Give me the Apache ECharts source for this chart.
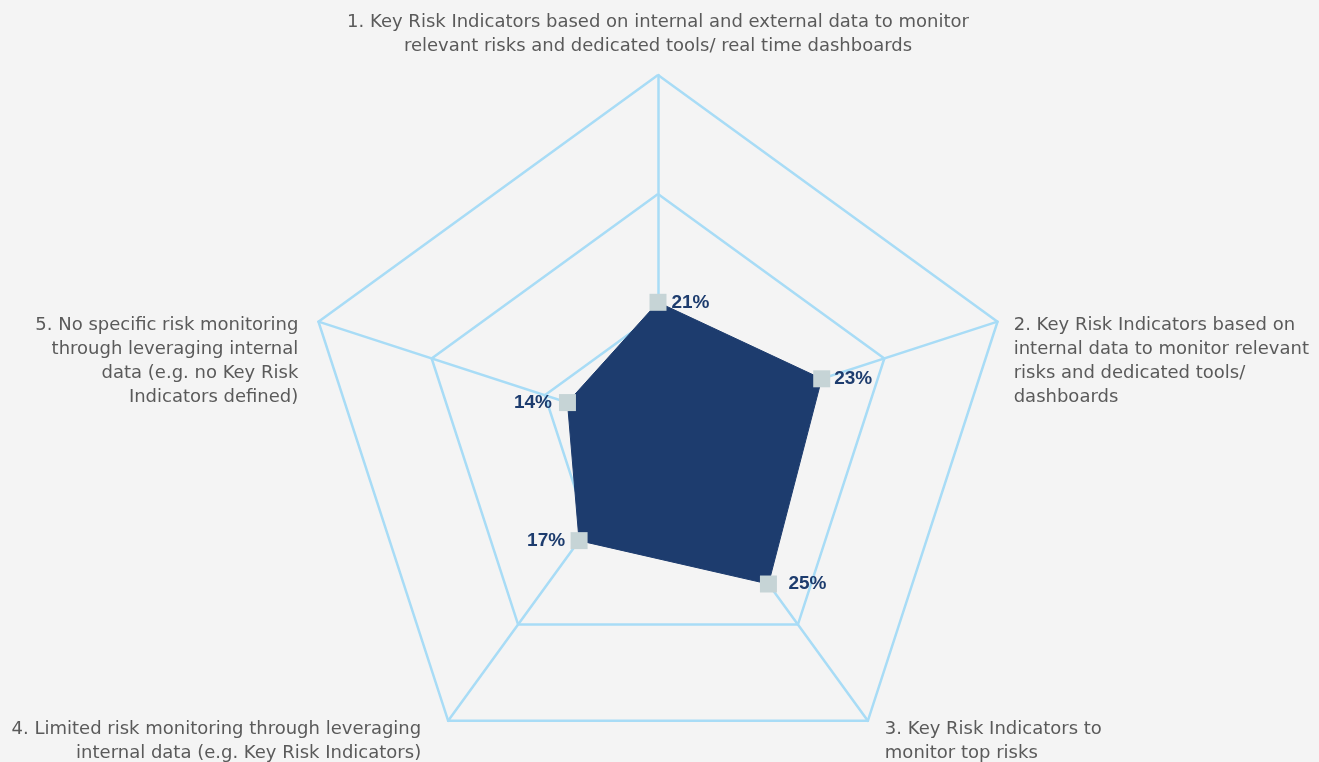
<!DOCTYPE html>
<html><head><meta charset="utf-8">
<script src="https://cdn.jsdelivr.net/npm/echarts@6/dist/echarts.min.js"></script>
<style>html,body{margin:0;padding:0;background:#f4f4f4;} #chart{width:1319px;height:762px;}</style>
</head><body><div id="chart"></div>
<script>
// ---- data ----
const categories = [
  "1. Key Risk Indicators based on internal and external data to monitor\nrelevant risks and dedicated tools/ real time dashboards",
  "2. Key Risk Indicators based on\ninternal data to monitor relevant\nrisks and dedicated tools/\ndashboards",
  "3. Key Risk Indicators to\nmonitor top risks",
  "4. Limited risk monitoring through leveraging\ninternal data (e.g. Key Risk Indicators)",
  "5. No specific risk monitoring\nthrough leveraging internal\ndata (e.g. no Key Risk\nIndicators defined)"
];
const values = [21, 23, 25, 17, 14];
const axisMax = [57.8, 47.7, 47.5, 45.2, 52.5];

// ---- styling ----
const gridColor = '#a8dcf6';
const navy = '#1d3c6e';
const markerColor = '#c6d4d6';
const textColor = '#5a5a5a';
const nameFont = '"DejaVu Sans", sans-serif';
const labelFont = '"Liberation Sans", Arial, sans-serif';

const nameLayout = [
  {align: 'center', spacer: 0, pad: [0, 0, 0, 0]},
  {align: 'left', spacer: 89, pad: [0, 0, 0, 0]},
  {align: 'left', spacer: 13, pad: [0, 0, 0, 7]},
  {align: 'right', spacer: 13, pad: [0, 17, 0, 0]},
  {align: 'right', spacer: 89, pad: [0, 4, 0, 0]}
];
const labelPad = [[0,0,0,65],[0,0,0,63],[0,0,0,78],[0,66,0,0],[0,69,0,0]];

// ECharts places indicators counter-clockwise; reorder so they run clockwise
const order = [0, 4, 3, 2, 1];

const nameRich = {};
const labelRich = {};
nameLayout.forEach((l, i) => {
  nameRich['s' + i] = {fontSize: 1, lineHeight: l.spacer};
  nameRich['t' + i] = {align: l.align, padding: l.pad, lineHeight: 24, fontSize: 18, color: textColor, fontFamily: nameFont};
  labelRich['p' + i] = {padding: labelPad[i], fontSize: 19, fontWeight: 'bold', color: navy, fontFamily: labelFont};
});

const chart = echarts.init(document.getElementById('chart'));
chart.setOption({
  backgroundColor: '#f4f4f4',
  radar: {
    center: [658, 432],
    radius: 357,
    shape: 'polygon',
    splitNumber: 3,
    nameGap: 17,
    indicator: order.map(i => ({name: categories[i], min: 0, max: axisMax[i], idx: i})),
    axisName: {
      color: textColor,
      fontSize: 18,
      fontFamily: nameFont,
      lineHeight: 24,
      rich: nameRich,
      formatter: function (name, ind) {
        let i = (ind && ind.idx != null) ? ind.idx : categories.indexOf(name);
        const lines = name.split('\n').map(s => '{t' + i + '|' + s + '}');
        if (nameLayout[i].spacer) lines.unshift('{s' + i + '| }');
        return lines.join('\n');
      }
    },
    axisLine: {lineStyle: {color: gridColor, width: 2.5}},
    splitLine: {lineStyle: {color: gridColor, width: 2.5}},
    splitArea: {show: false},
    axisTick: {show: false},
    axisLabel: {show: false}
  },
  series: [{
    type: 'radar',
    symbol: 'rect',
    symbolSize: 17,
    itemStyle: {color: markerColor},
    lineStyle: {color: navy, width: 1},
    areaStyle: {color: navy, opacity: 1},
    label: {
      show: true,
      position: 'inside',
      align: 'center',
      verticalAlign: 'middle',
      rich: labelRich,
      formatter: function (p) {
        const i = values.indexOf(p.value);
        return '{p' + i + '|' + values[i] + '%}';
      }
    },
    data: [{value: order.map(i => values[i]), name: 'Share'}]
  }]
});
</script>
</body></html>
